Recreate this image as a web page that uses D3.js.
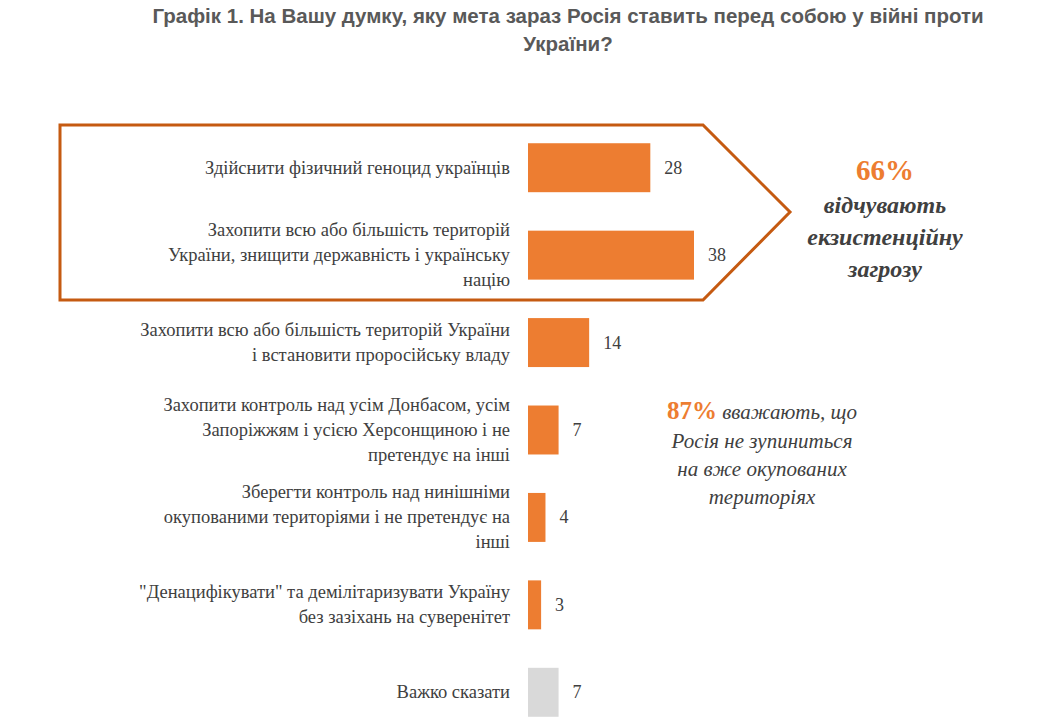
<!DOCTYPE html>
<html><head><meta charset="utf-8">
<script src="https://cdn.jsdelivr.net/npm/d3@7"></script>
<style>body{margin:0;background:#fff} text.s{font-family:"Liberation Serif","Times New Roman","DejaVu Serif",serif}</style>
</head><body><svg id="c" width="1044" height="720"></svg>
<script>
var categories = [
  ["Здійснити фізичний геноцид українців"],
  ["Захопити всю або більшість територій", "України, знищити державність і українську", "націю"],
  ["Захопити всю або більшість територій України", "і встановити проросійську владу"],
  ["Захопити контроль над усім Донбасом, усім", "Запоріжжям і усією Херсонщиною і не", "претендує на інші"],
  ["Зберегти контроль над нинішніми", "окупованими територіями і не претендує на", "інші"],
  ["\"Денацифікувати\" та демілітаризувати Україну", "без зазіхань на суверенітет"],
  ["Важко сказати"]
];
var values = [28, 38, 14, 7, 4, 3, 7];
var colors = ["#ED7D31","#ED7D31","#ED7D31","#ED7D31","#ED7D31","#ED7D31","#D9D9D9"];

var svg = d3.select('#c');

// title
svg.append('text').attr('x',568).attr('y',23).attr('text-anchor','middle')
  .attr('font-family','Liberation Sans, Arial, sans-serif').attr('font-weight','bold').attr('font-size',20.5).attr('fill','#595959')
  .selectAll('tspan').data(["Графік 1. На Вашу думку, яку мета зараз Росія ставить перед собою у війні проти","України?"])
  .join('tspan').attr('x',568).attr('dy',function(d,i){return i?28:0;}).text(function(d){return d;});

var x = d3.scaleLinear().domain([0,38]).range([528,694]);
var y = d3.scaleBand().domain(d3.range(values.length)).range([124,736]).paddingInner(0.44).paddingOuter(0.22);

svg.selectAll('rect.bar').data(values).join('rect').attr('class','bar')
  .attr('x',x(0)).attr('y',function(d,i){return y(i);})
  .attr('width',function(d){return x(d)-x(0);}).attr('height',y.bandwidth())
  .attr('fill',function(d,i){return colors[i];});

svg.selectAll('text.val').data(values).join('text').attr('class','val s')
  .attr('x',function(d){return x(d)+14;}).attr('y',function(d,i){return y(i)+y.bandwidth()/2+6;})
  .attr('font-size',18).attr('fill','#404040').text(function(d){return d;});

categories.forEach(function(lines,i){
  var cy = y(i)+y.bandwidth()/2;
  var lh = 25;
  var t = svg.append('text').attr('class','s').attr('text-anchor','end').attr('font-size',18.5).attr('fill','#404040');
  lines.forEach(function(l,j){
    t.append('tspan').attr('x',510).attr('y',cy+6+(j-(lines.length-1)/2)*lh).text(l);
  });
});

svg.append('path').attr('d','M60,125 L703,125 L790,212 L703,300 L60,300 Z')
  .attr('fill','none').attr('stroke','#C55A11').attr('stroke-width',3);

svg.append('text').attr('class','s').attr('x',885).attr('y',180).attr('text-anchor','middle')
  .attr('font-size',29).attr('font-weight','bold').attr('fill','#ED7D31').text('66%');
["відчувають","екзистенційну","загрозу"].forEach(function(s,i){
  svg.append('text').attr('class','s').attr('x',885).attr('y',213+i*32).attr('text-anchor','middle')
    .attr('font-size',24).attr('font-style','italic').attr('font-weight','bold').attr('fill','#404040').text(s);
});
var a = svg.append('text').attr('class','s').attr('x',762).attr('y',419).attr('text-anchor','middle')
  .attr('font-size',21).attr('font-style','italic').attr('fill','#404040');
a.append('tspan').attr('font-size',25).attr('font-weight','bold').attr('font-style','normal').attr('fill','#ED7D31').text('87%');
a.append('tspan').text(' вважають, що');
["Росія не зупиниться","на вже окупованих","територіях"].forEach(function(s,i){
  svg.append('text').attr('class','s').attr('x',762).attr('y',448+i*28).attr('text-anchor','middle')
    .attr('font-size',21).attr('font-style','italic').attr('fill','#404040').text(s);
});
</script></body></html>
